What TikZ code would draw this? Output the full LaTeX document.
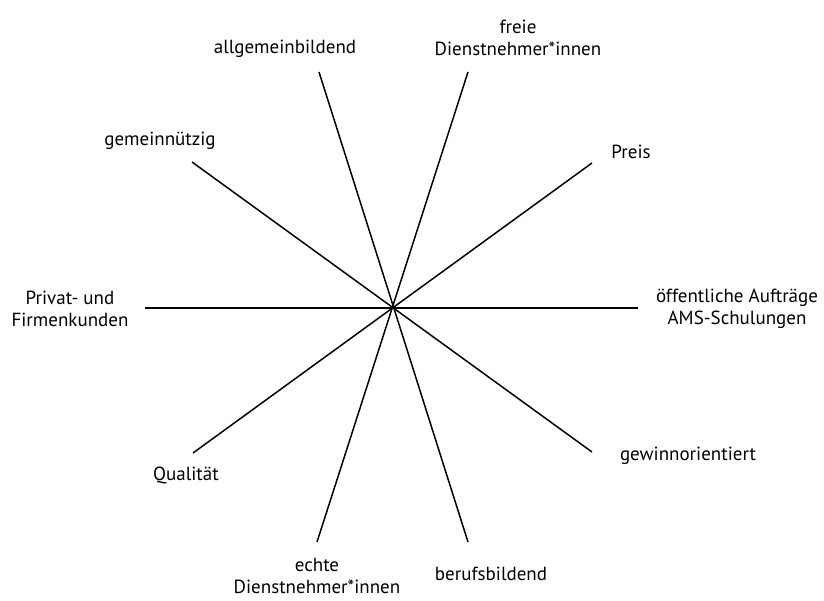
\documentclass[tikz,border=0pt]{standalone}
\usepackage{fontspec}
\setmainfont{PT Sans}
\begin{document}
\begin{tikzpicture}[x=1pt,y=-1pt,
  spoke/.style={draw=black,line width=1.5pt},
  lbl/.style={align=center,inner sep=0pt,font=\fontsize{19}{22.5}\selectfont}]
\useasboundingbox (0,0) rectangle (824,601);
\coordinate (c) at (392,308);
% spoke ends
\coordinate (t1) at (319,72);
\coordinate (b1) at (468,542);
\coordinate (t2) at (468,72);
\coordinate (b2) at (317,542);
\coordinate (ul) at (192,162);
\coordinate (lr) at (592,452);
\coordinate (ur) at (592,163);
\coordinate (ll) at (193,453);
\coordinate (l) at (145,308);
\coordinate (r) at (638,308);
\draw[spoke] (t1) -- (b1);
\draw[spoke] (t2) -- (b2);
\draw[spoke] (ul) -- (lr);
\draw[spoke] (ur) -- (ll);
\draw[spoke] (l) -- (r);
% labels
\node[lbl] (n1) at (285,49) {allgemeinbildend};
\node[lbl] (n2) at (518,38) {freie\\Dienstnehmer*innen};
\node[lbl] (n3) at (160,141) {gemeinnützig};
\node[lbl] (n4) at (631,152) {Preis};
\node[lbl] (n5) at (70,309) {Privat- und\\Firmenkunden};
\node[lbl] (n6) at (737,309) {öffentliche Aufträge\\AMS-Schulungen};
\node[lbl] (n7) at (688,456) {gewinnorientiert};
\node[lbl] (n8) at (186,475) {Qualität};
\node[lbl] (n9) at (317,576) {echte\\Dienstnehmer*innen};
\node[lbl] (n10) at (491,574) {berufsbildend};
\end{tikzpicture}
\end{document}
